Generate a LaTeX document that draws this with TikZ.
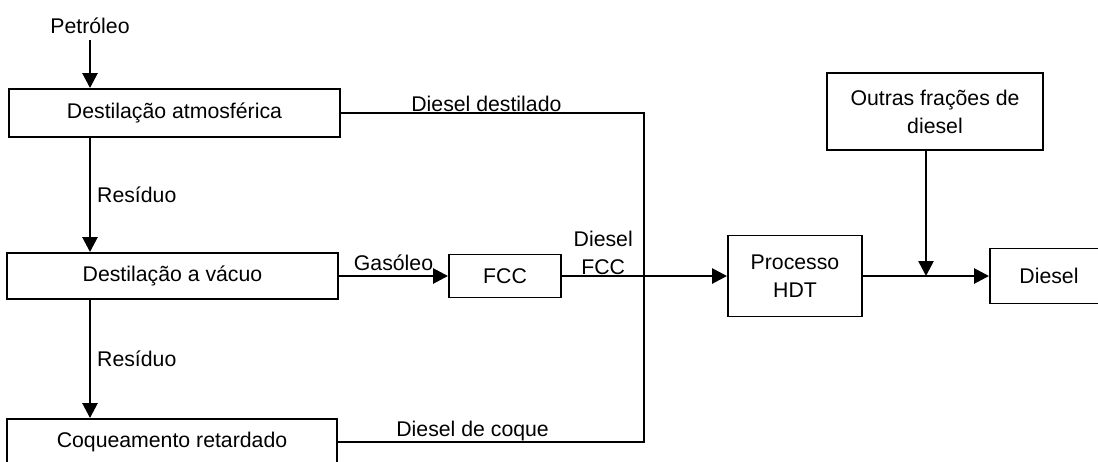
\documentclass[tikz,border=0pt]{standalone}
\usepackage{fontspec}
\setmainfont{Liberation Sans}
\usetikzlibrary{arrows.meta}

\begin{document}
\begin{tikzpicture}[x=0.02cm,y=-0.02cm,>={Triangle[length=0.3cm,width=0.3cm]},
  font=\fontsize{12.1}{16}\selectfont,
  box/.style={draw,line width=1.1pt,inner sep=0pt,align=center},
  flow/.style={->,line width=1.5pt},
  feed/.style={line width=1.1pt}]
\useasboundingbox (0,0) rectangle (1098,461);
\node (pet) at (90,26) {Petróleo};
\node[box,minimum width=6.62cm,minimum height=0.96cm] (da) at (174.5,113) {Destilação atmosférica};
\node[box,minimum width=6.62cm,minimum height=0.92cm] (dv) at (172.5,276) {Destilação a vácuo};
\node[box,minimum width=6.6cm,minimum height=0.92cm] (cr) at (172,442) {Coqueamento retardado};
\node[box,minimum width=2.24cm,minimum height=0.86cm] (fcc) at (505,276) {FCC};
\node[box,minimum width=2.68cm,minimum height=1.62cm] (hdt) at (795,276) {Processo\\HDT};
\node[box,minimum width=4.32cm,minimum height=1.54cm] (out) at (935,111.5) {Outras frações de\\diesel};
\node[box,minimum width=2.36cm,minimum height=1.1cm] (dsl) at (1049,276) {Diesel};
\coordinate (mix) at (644,276);
\coordinate (tee) at (926,276);
\draw[flow] (pet.south) -- (pet.south |- da.north);
\draw[flow] (da.south -| pet.south) -- node[right] (res1) {Resíduo} (dv.north -| pet.south);
\draw[flow] (dv.south -| pet.south) -- node[right] (res2) {Resíduo} (cr.north -| pet.south);
\draw[flow] (dv.east) -- node[above,inner sep=2pt] (gas) {Gasóleo} (fcc.west);
\draw[flow] (fcc.east) -- node[above,pos=0.25,inner sep=0pt,align=center] (dfcc) {Diesel\\FCC} (hdt.west);
\draw[feed] (da.east) -- node[above,pos=0.48,inner sep=0pt] (ddest) {Diesel destilado} (da.east -| mix) -- (mix);
\draw[feed] (mix) |- node[above,pos=0.78,inner sep=0pt] (dcoq) {Diesel de coque} (cr.east);
\draw[flow] (hdt.east) -- (dsl.west);
\draw[flow] (tee |- out.south) -- (tee);
\end{tikzpicture}
\end{document}
